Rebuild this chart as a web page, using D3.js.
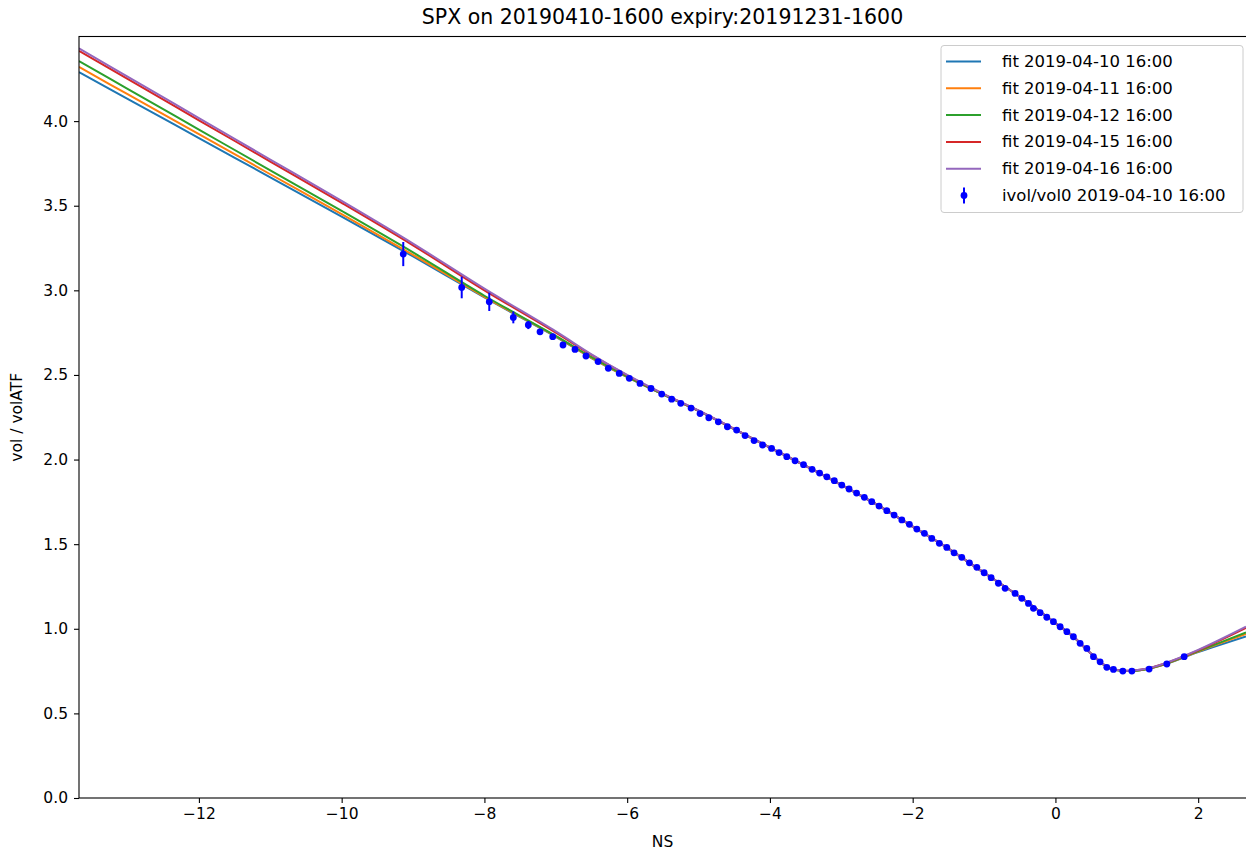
<!DOCTYPE html>
<html>
<head>
<meta charset="utf-8">
<script src="https://cdn.jsdelivr.net/npm/d3@7"></script>
<style>
  body { margin: 0; background: #fff; }
  svg text { font-family: "DejaVu Sans", sans-serif; fill: #000; }
</style>
</head>
<body>
<svg id="chart" width="1246" height="850"></svg>
<script>
// Messpunkte ivol/vol0 (NS, Verhaeltnis, Fehler)
const ns = [-9.137, -8.318, -7.932, -7.595, -7.385, -7.221, -7.043, -6.899, -6.731, -6.577,
  -6.408, -6.264, -6.111, -5.970, -5.820, -5.666, -5.516, -5.376, -5.249, -5.105,
  -4.979, -4.856, -4.723, -4.596, -4.467, -4.348, -4.222, -4.103, -3.977, -3.872,
  -3.764, -3.648, -3.529, -3.409, -3.304, -3.203, -3.098, -2.993, -2.891, -2.786,
  -2.677, -2.573, -2.471, -2.363, -2.260, -2.152, -2.046, -1.942, -1.836, -1.732,
  -1.626, -1.522, -1.420, -1.312, -1.205, -1.101, -0.999, -0.901, -0.799, -0.705,
  -0.565, -0.471, -0.378, -0.308, -0.214, -0.121, -0.028, 0.066, 0.160, 0.252,
  0.346, 0.440, 0.533, 0.626, 0.720, 0.813, 0.944, 1.071, 1.313, 1.561, 1.804];
const volRatio = [3.214, 3.017, 2.932, 2.840, 2.795, 2.755, 2.726, 2.677, 2.651, 2.612,
  2.579, 2.539, 2.509, 2.480, 2.450, 2.420, 2.387, 2.357, 2.332, 2.304,
  2.272, 2.247, 2.223, 2.194, 2.174, 2.142, 2.112, 2.086, 2.066, 2.041,
  2.017, 1.993, 1.970, 1.942, 1.920, 1.898, 1.875, 1.849, 1.826, 1.802,
  1.777, 1.751, 1.725, 1.698, 1.672, 1.643, 1.617, 1.589, 1.564, 1.534,
  1.505, 1.481, 1.449, 1.422, 1.390, 1.363, 1.331, 1.302, 1.269, 1.239,
  1.209, 1.180, 1.150, 1.121, 1.095, 1.068, 1.042, 1.012, 0.983, 0.953,
  0.914, 0.884, 0.835, 0.805, 0.772, 0.760, 0.750, 0.750, 0.762, 0.792, 0.835];
const volErr = [0.071, 0.064, 0.054, 0.035, 0.024, 0.018, 0.015, 0.012, 0.011, 0.010,
  0.009, 0.009, 0.008, 0.008, 0.008, 0.008, 0.007, 0.007, 0.007, 0.007,
  0.007, 0.007, 0.007, 0.007, 0.007, 0.007, 0.007, 0.007, 0.007, 0.007,
  0.007, 0.007, 0.007, 0.007, 0.007, 0.007, 0.007, 0.007, 0.007, 0.007,
  0.007, 0.007, 0.007, 0.007, 0.007, 0.007, 0.007, 0.007, 0.007, 0.007,
  0.007, 0.007, 0.007, 0.007, 0.007, 0.007, 0.007, 0.007, 0.007, 0.007,
  0.006, 0.006, 0.006, 0.006, 0.006, 0.006, 0.006, 0.006, 0.006, 0.006,
  0.006, 0.006, 0.006, 0.006, 0.006, 0.006, 0.006, 0.006, 0.006, 0.006, 0.006];

// Fit-Kurven (gemeinsames NS-Gitter)
const fitNS = [-13.68, -13, -12, -11, -10, -9, -8, -7, -6.5, -6,
  -5.5, -5, -4.5, -4, -3.5, -3, -2.5, -2, -1.5, -1,
  -0.5, 0, 0.25, 0.5, 0.75, 1.0, 1.25, 1.5, 2.0, 2.67];
const fit0410 = [4.290, 4.132, 3.900, 3.668, 3.436, 3.200, 2.958, 2.725, 2.600, 2.487,
  2.385, 2.288, 2.180, 2.071, 1.963, 1.851, 1.733, 1.604, 1.474, 1.331,
  1.189, 1.033, 0.953, 0.852, 0.768, 0.750, 0.759, 0.785, 0.862, 0.955];
const fit0411 = [4.320, 4.159, 3.923, 3.686, 3.450, 3.210, 2.962, 2.728, 2.601, 2.488,
  2.385, 2.288, 2.180, 2.071, 1.963, 1.851, 1.733, 1.604, 1.474, 1.331,
  1.189, 1.033, 0.953, 0.852, 0.768, 0.750, 0.760, 0.786, 0.866, 0.970];
const fit0412 = [4.355, 4.191, 3.950, 3.709, 3.469, 3.224, 2.968, 2.731, 2.605, 2.490,
  2.386, 2.288, 2.180, 2.071, 1.963, 1.851, 1.733, 1.604, 1.474, 1.331,
  1.189, 1.033, 0.953, 0.852, 0.768, 0.751, 0.760, 0.787, 0.868, 0.978];
const fit0415 = [4.415, 4.249, 4.005, 3.761, 3.517, 3.266, 3.000, 2.750, 2.618, 2.498,
  2.389, 2.289, 2.181, 2.071, 1.963, 1.851, 1.733, 1.604, 1.474, 1.331,
  1.189, 1.033, 0.954, 0.853, 0.769, 0.752, 0.762, 0.790, 0.872, 1.005];
const fit0416 = [4.430, 4.263, 4.018, 3.773, 3.528, 3.276, 3.010, 2.757, 2.622, 2.500,
  2.390, 2.290, 2.181, 2.071, 1.963, 1.851, 1.733, 1.604, 1.474, 1.331,
  1.189, 1.033, 0.954, 0.853, 0.769, 0.752, 0.762, 0.791, 0.875, 1.012];

const fitLabels = ["fit 2019-04-10 16:00", "fit 2019-04-11 16:00", "fit 2019-04-12 16:00",
  "fit 2019-04-15 16:00", "fit 2019-04-16 16:00"];
const dataLabel = "ivol/vol0 2019-04-10 16:00";
const xTicks = [-12, -10, -8, -6, -4, -2, 0, 2];
const yTicks = [0.0, 0.5, 1.0, 1.5, 2.0, 2.5, 3.0, 3.5, 4.0];

const fitColors = ["#1f77b4", "#ff7f0e", "#2ca02c", "#d62728", "#9467bd"];

function drawChart() {
    const svg = d3.select("#chart");
    const left = 79, right = 1246, top = 36.5, bottom = 798;

    const x = d3.scaleLinear().domain([-13.68, 2.67]).range([left, right]);
    const y = d3.scaleLinear().domain([0, 4.5]).range([bottom, top]);

    svg.append("defs").append("clipPath").attr("id", "plotclip")
        .append("rect").attr("x", left).attr("y", top)
        .attr("width", right - left).attr("height", bottom - top);

    const plot = svg.append("g").attr("clip-path", "url(#plotclip)");

    // Fit-Linien
    const fits = [fit0410, fit0411, fit0412, fit0415, fit0416];
    const line = d3.line()
        .x(d => x(d[0]))
        .y(d => y(d[1]))
        .curve(d3.curveCatmullRom.alpha(0.5));
    fits.forEach((vals, i) => {
        plot.append("path")
            .datum(fitNS.map((n, j) => [n, vals[j]]))
            .attr("d", line)
            .attr("fill", "none")
            .attr("stroke", fitColors[i])
            .attr("stroke-width", 2);
    });

    // Fehlerbalken + Punkte
    const pts = ns.map((n, i) => ({ n: n, v: volRatio[i], e: volErr[i] }));
    plot.append("g").selectAll("line").data(pts).enter().append("line")
        .attr("x1", d => x(d.n)).attr("x2", d => x(d.n))
        .attr("y1", d => y(d.v - d.e)).attr("y2", d => y(d.v + d.e))
        .attr("stroke", "#0000ff").attr("stroke-width", 2);
    plot.append("g").selectAll("circle").data(pts).enter().append("circle")
        .attr("cx", d => x(d.n)).attr("cy", d => y(d.v))
        .attr("r", 3.4).attr("fill", "#0000ff");

    // Achsen
    const xAxis = svg.append("g").attr("transform", "translate(0," + bottom + ")")
        .call(d3.axisBottom(x).tickValues(xTicks).tickSize(5).tickPadding(5).tickFormat(d3.format("d")));
    const yAxis = svg.append("g").attr("transform", "translate(" + left + ",0)")
        .call(d3.axisLeft(y).tickValues(yTicks).tickSize(5).tickPadding(6).tickFormat(d3.format(".1f")));
    [xAxis, yAxis].forEach(a => {
        a.select(".domain").remove();
        a.selectAll("text").attr("font-size", 15.5).attr("font-family", "DejaVu Sans").attr("fill", "#000");
        a.selectAll("line").attr("stroke", "#000").attr("stroke-width", 1.1);
    });

    // Rahmen (rechte Kante liegt ausserhalb)
    svg.append("rect").attr("x", left).attr("y", top)
        .attr("width", right - left + 10).attr("height", bottom - top)
        .attr("fill", "none").attr("stroke", "#000").attr("stroke-width", 1.1);

    // Titel + Beschriftungen
    svg.append("text").attr("x", (left + right) / 2).attr("y", 24)
        .attr("text-anchor", "middle").attr("font-size", 20.5)
        .text("SPX on 20190410-1600 expiry:20191231-1600");
    svg.append("text").attr("x", (left + right) / 2).attr("y", 847)
        .attr("text-anchor", "middle").attr("font-size", 15.5).text("NS");
    svg.append("text").attr("transform", "translate(22," + (bottom + top) / 2 + ") rotate(-90)")
        .attr("text-anchor", "middle").attr("font-size", 15.5).text("vol / volATF");

    // Legende
    const lg = svg.append("g");
    lg.append("rect").attr("x", 941).attr("y", 45.5).attr("width", 302).attr("height", 167)
        .attr("rx", 3).attr("fill", "#fff").attr("fill-opacity", 0.8)
        .attr("stroke", "#cccccc").attr("stroke-width", 1);
    const rowH = 26.8, row0 = 61.5;
    fitLabels.forEach((lab, i) => {
        const cy = row0 + i * rowH;
        lg.append("line").attr("x1", 946).attr("x2", 981).attr("y1", cy).attr("y2", cy)
            .attr("stroke", fitColors[i]).attr("stroke-width", 2);
        lg.append("text").attr("x", 1002).attr("y", cy + 5.5).attr("font-size", 16.5).text(lab);
    });
    const cyD = row0 + 5 * rowH;
    lg.append("line").attr("x1", 964).attr("x2", 964).attr("y1", cyD - 8).attr("y2", cyD + 8)
        .attr("stroke", "#0000ff").attr("stroke-width", 2);
    lg.append("circle").attr("cx", 964).attr("cy", cyD).attr("r", 3.4).attr("fill", "#0000ff");
    lg.append("text").attr("x", 1002).attr("y", cyD + 5.5).attr("font-size", 16.5).text(dataLabel);
}

drawChart();
</script>
</body>
</html>
